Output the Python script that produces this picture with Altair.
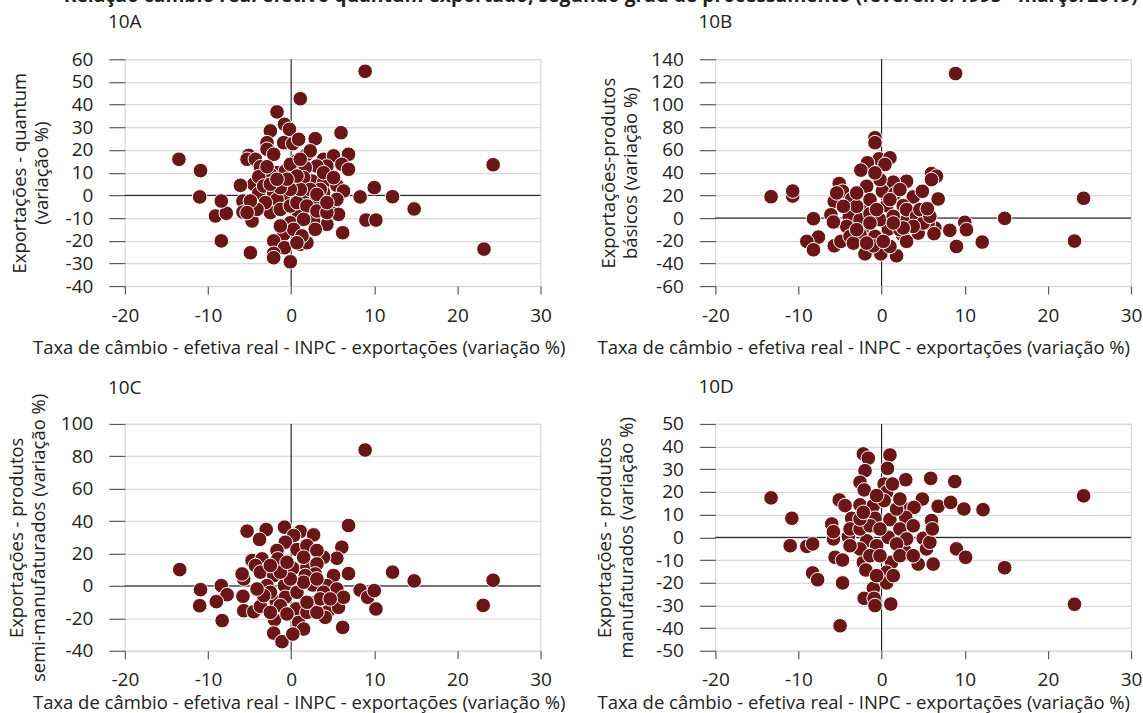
import altair as alt
import pandas as pd

# ---------------- data ----------------
X_TITLE = "Taxa de câmbio - efetiva real - INPC - exportações (variação %)"
MAIN_TITLE = ("Relação câmbio real efetivo quantum exportado, segundo grau de "
              "processamento (fevereiro/1995 - março/2019)")
X_TICKS = [-20, -10, 0, 10, 20, 30]

a_x = [1.1,-1.7,-0.8,-0.2,-2.5,6.0,2.9,-2.9,-0.9,0.2,
       0.9,-2.9,-5.1,-5.3,-4.3,-2.1,0.6,1.9,2.3,3.9,
       5.1,6.9,6.1,6.9,4.3,3.1,-3.7,-1.7,-2.5,-0.7,
       1.7,2.5,1.5,3.9,5.5,6.3,0.3,-0.9,-4.5,-6.1,
       -3.9,-5.8,-5.8,-4.7,-2.5,-1.7,-0.9,1.7,3.0,3.9,
       5.1,5.7,4.3,2.7,0.9,-0.1,-0.9,-2.1,-0.8,-2.1,
       -2.1,-0.1,1.1,1.9,2.9,6.2,-4.9,-8.4,-9.1,-7.8,
       -8.4,-11.0,-10.9,-13.5,8.3,10.0,12.2,9.0,10.2,-3.9,
       -3.3,-2.1,-1.7,-2.5,-1.3,-0.1,0.7,1.9,3.1,4.3,
       5.5,3.5,2.3,1.1,-0.1,-1.3,-2.5,-2.9,-0.1,1.1,
       3.9,5.1,0.7,-0.5,-1.7,1.5,0.3,-1.3,1.3,0.7,
       3.1,4.3,-3.1,-4.1,-4.9,-5.3,8.9,24.3,23.2,14.8]
a_y = [42.6,36.8,31.3,29.1,28.4,27.6,25.0,23.2,23.2,22.8,
       24.7,20.3,17.6,15.9,15.9,18.1,15.1,18.1,19.6,15.9,
       17.4,18.1,13.7,11.5,12.9,12.9,12.6,10.0,9.3,10.7,
       12.2,6.3,7.8,5.6,4.4,1.9,4.1,5.6,4.9,4.4,
       0.9,-2.5,-7.4,-11.3,-4.0,-5.0,-0.3,-1.8,-2.5,1.2,
       -4.0,-8.4,-12.8,-11.3,-9.1,-12.1,-17.2,-20.1,-23.1,-25.6,
       -27.5,-29.3,-21.6,-20.9,-15.0,-16.5,-25.3,-20.1,-9.1,-7.9,
       -2.5,-0.7,10.9,15.9,-0.7,3.4,-0.6,-10.9,-10.9,8.2,
       4.1,1.2,-1.8,-7.6,-6.2,-4.7,-3.2,-4.7,-6.9,-7.6,
       -1.8,2.6,2.6,2.6,2.6,3.4,4.9,12.6,13.7,15.9,
       10.0,7.8,8.5,7.1,7.1,-10.6,-15.0,-13.5,-17.9,-20.9,
       0.4,-3.2,-3.2,-6.2,-2.5,-7.6,54.7,13.5,-23.7,-6.0]

b_x = [-0.8,-0.8,-0.3,1.0,0.4,-1.7,-2.5,6.0,6.6,6.0,
       -5.1,-1.8,3.0,1.4,-4.7,0.1,1.6,3.8,4.9,6.8,
       -5.7,-3.6,0.6,2.6,5.4,-2.0,-3.9,-5.7,-6.1,-8.2,
       3.0,-2.2,0.8,-0.8,2.5,4.4,6.4,5.6,8.2,10.0,
       10.2,9.0,12.1,-7.6,-9.0,-8.2,-5.7,-4.9,-2.0,-0.1,
       1.8,-1.0,1.0,-2.6,-4.2,-2.6,-1.4,-0.2,1.4,3.0,
       4.2,5.0,3.8,2.2,-1.4,-0.6,1.0,2.2,-0.2,-0.8,
       -3.0,-4.6,-5.4,-3.0,4.6,5.8,-3.8,-3.4,-1.8,0.2,
       3.0,2.6,1.4,-1.4,-3.0,-13.3,-10.7,-10.7,8.9,14.8,
       24.3,23.2,6.3,5.5,-5.8]
b_y = [70.8,66.4,52.2,53.1,47.2,48.7,42.2,39.2,36.9,33.9,
       30.4,28.0,32.4,31.6,23.6,23.6,21.5,18.6,23.6,16.8,
       14.7,16.8,10.9,10.9,8.8,7.4,0.9,-3.8,2.9,-0.6,
       -2.1,-8.0,-9.7,-16.2,-14.7,-13.3,-8.8,-4.4,-10.9,-3.8,
       -10.3,-25.1,-21.2,-16.8,-20.6,-28.0,-24.5,-20.6,-31.6,-31.6,
       -33.3,-24.5,-25.1,-14.7,-7.4,-1.5,3.8,-1.5,1.5,7.4,
       1.5,-4.4,-7.4,-10.3,16.2,7.4,16.2,25.1,33.9,39.8,
       10.3,10.3,22.1,22.1,7.4,1.5,-16.2,-22.1,-22.1,-20.6,
       -20.6,-8.8,-4.4,-4.4,-10.3,18.8,19.4,23.8,127.4,-0.3,
       17.4,-20.3,-13.8,8.2,-3.5]

c_x = [-13.4,6.9,-5.3,-3.0,-3.8,-0.8,1.1,2.7,0.3,-0.7,
       0.7,1.9,6.1,5.5,3.9,3.1,-1.7,-4.7,-3.5,-1.6,
       -4.3,-3.7,-5.7,-5.9,-2.1,0.2,1.9,3.1,5.1,2.9,
       1.7,6.9,-0.8,2.6,4.3,5.5,-5.8,-5.7,-4.5,-3.7,
       -1.8,-0.7,0.6,2.6,4.4,5.7,6.3,-2.0,0.9,1.5,
       -2.1,-1.1,0.2,4.1,6.2,8.3,9.2,10.0,10.2,12.2,
       -10.9,-11.0,-8.4,-7.7,-9.0,-8.3,-2.9,-2.5,0.7,1.5,
       3.9,3.1,-0.1,-1.3,-0.5,1.5,-2.5,-1.3,-0.5,1.9,
       3.1,3.5,4.7,1.9,-2.5,-3.3,-4.1,8.9,14.8,24.3,
       23.1]
c_y = [10.1,37.3,33.8,34.8,28.7,36.3,33.6,31.5,31.1,27.0,
       22.5,24.9,23.9,17.1,17.7,21.9,21.9,15.7,16.7,16.7,
       12.6,8.5,4.3,7.4,6.4,10.9,11.5,13.6,6.4,7.4,
       6.4,7.6,0.2,0.6,0.2,-1.9,-6.4,-15.3,-15.9,-12.6,
       -9.7,-7.0,-14.2,-10.5,-15.9,-13.2,-7.0,-20.8,-22.5,-26.6,
       -29.1,-34.4,-29.7,-19.4,-25.6,-2.5,-7.0,-2.9,-14.2,8.5,
       -2.3,-12.2,0.2,-5.4,-9.7,-21.4,0.2,-3.9,-3.9,2.3,
       -3.9,4.3,4.3,8.5,14.6,17.7,12.6,-12.2,-17.3,-16.3,
       -16.3,-8.0,-8.0,-10.1,-16.3,-6.0,-1.9,83.9,3.1,3.5,
       -12.0]

d_x = [-2.2,-1.6,1.0,0.7,-2.0,2.9,5.9,8.8,-2.6,-2.1,
       0.3,0.6,1.3,4.9,6.8,8.3,9.9,12.2,-13.3,-10.8,
       -5.1,-4.4,-2.6,-1.0,0.3,2.8,3.9,-3.6,-0.8,1.0,
       2.9,6.0,6.0,5.0,-6.0,-5.8,-4.0,-1.8,0.8,2.8,
       -11.0,-9.0,-8.3,-5.6,-4.7,-2.2,-1.9,1.2,0.6,4.4,
       6.2,9.0,10.1,-8.3,-7.7,-4.7,-1.0,0.6,-2.1,-0.9,
       -0.8,1.1,-5.0,-3.8,-2.6,-1.4,-0.2,2.2,3.8,3.0,
       1.8,-0.6,-2.6,-3.8,-1.4,-0.2,2.2,3.8,5.4,5.8,
       1.4,-0.6,-2.6,-2.2,1.8,2.2,-0.6,24.3,23.2,14.8,
       -5.8,6.1]
d_y = [36.8,34.9,36.3,30.4,29.4,25.4,26.0,24.6,24.3,20.9,
       23.5,19.9,23.5,16.9,13.7,15.4,12.5,12.2,17.4,8.4,
       16.5,14.0,14.3,14.0,16.2,12.5,13.2,8.4,8.4,7.8,
       8.8,3.7,7.4,-0.4,5.9,-0.7,0.3,-1.5,0.0,-5.9,
       -3.7,-4.0,-2.9,-8.8,-10.0,-11.0,-14.4,-11.0,-15.4,-11.8,
       -11.8,-5.1,-8.8,-15.7,-18.7,-20.1,-22.5,-20.1,-26.9,-26.9,
       -30.1,-29.4,-39.0,3.7,3.7,5.1,3.7,3.7,5.1,-0.7,
       -2.9,-3.7,-5.1,-3.7,-8.1,-8.1,-8.1,-8.1,-5.1,-2.2,
       -16.9,-16.9,8.1,11.0,12.5,16.9,18.4,18.3,-29.5,-13.4,
       2.5,3.7]

# ---------------- styling ----------------
FONT = "Open Sans"
TEXT = "#222222"
RED = "#6B1616"
GRID = "#d9d9d9"
TICK = "#5a5a5a"
PW, PH = 416, 227
LABEL_SIZE = 19
TITLE_SIZE = 18.5


def panel(xs, ys, label, ytitle, ydom, ystep, title_x, x_title_pad,
          y_title_pad, label_dy=0):
    n = min(len(xs), len(ys))
    df = pd.DataFrame({"x": xs[:n], "y": ys[:n]})
    zero = pd.DataFrame({"v": [0]})
    xscale = alt.Scale(domain=[-20, 30], nice=False, zero=False)
    yscale = alt.Scale(domain=ydom, nice=False, zero=False)
    yvals = list(range(ydom[0], ydom[1] + 1, ystep))
    xaxis = alt.Axis(values=X_TICKS, grid=False, domain=False, tickSize=8,
                     tickColor=TICK, tickWidth=1.2, labelPadding=12,
                     labelFontSize=LABEL_SIZE, labelColor=TEXT, labelFont=FONT,
                     labelExpr="'' + datum.value",
                     labelFlush=False, title=X_TITLE, titleFont=FONT,
                     titleFontSize=TITLE_SIZE, titleFontWeight="normal",
                     titleColor=TEXT, titleX=title_x,
                     titlePadding=x_title_pad)
    yaxis = alt.Axis(values=yvals, grid=True, gridColor=GRID, gridWidth=1.2,
                     domain=False, tickSize=16, tickColor=TICK, tickWidth=1.2,
                     labelPadding=16, labelFontSize=LABEL_SIZE,
                     labelColor=TEXT, labelFont=FONT,
                     labelExpr="'' + datum.value",
                     title=ytitle, titleFont=FONT,
                     titleFontSize=TITLE_SIZE, titleFontWeight="normal",
                     titleColor=TEXT, titleLineHeight=22,
                     titlePadding=y_title_pad)
    vline = alt.Chart(zero).mark_rule(color="black", strokeWidth=1).encode(
        x=alt.X("v:Q", scale=xscale, axis=xaxis))
    hline = alt.Chart(zero).mark_rule(color="black", strokeWidth=1).encode(
        y=alt.Y("v:Q", scale=yscale, axis=yaxis))
    pts = alt.Chart(df).mark_circle(size=215, color=RED, opacity=1,
                                    stroke="white", strokeWidth=1).encode(
        x=alt.X("x:Q", scale=xscale, axis=xaxis),
        y=alt.Y("y:Q", scale=yscale, axis=yaxis))
    return alt.layer(vline, hline, pts).properties(
        width=PW, height=PH,
        title=alt.TitleParams(label, anchor="start", frame="group", dx=-17,
                              dy=label_dy, fontSize=19, font=FONT,
                              fontWeight="normal", color=TEXT, offset=18))


pa = panel(a_x, a_y, "10A", ["Exportações - quantum", "(variação %)"],
           [-40, 60], 10, 174, 13, 14)
pb = panel(b_x, b_y, "10B", ["Exportações-produtos", "básicos (variação %)"],
           [-60, 140], 20, 148, 13, 10)
pc = panel(c_x, c_y, "10C",
           ["Exportações - produtos", "semi-manufaturados (variação %)"],
           [-40, 100], 20, 174, 4, 12, label_dy=23)
pd_ = panel(d_x, d_y, "10D",
            ["Exportações - produtos", "manufaturados (variação %)"],
            [-50, 50], 10, 148, 4, 19)

# with flush bounds the rows are placed from their plot tops:
# 365 = plot height (227) + gap between the two plot areas (138)
chart = alt.vconcat(
    alt.hconcat(pa, pb, spacing=175, bounds="flush"),
    alt.hconcat(pc, pd_, spacing=175, bounds="flush"),
    spacing=365,
    bounds="flush",
).properties(
    title=alt.TitleParams(MAIN_TITLE, anchor="start", dx=57, fontSize=19.3,
                          font=FONT, fontWeight="bold", color="#222222",
                          offset=6),
    padding={"top": -13, "left": 6, "right": 0, "bottom": 0},
).configure_view(stroke=GRID, strokeWidth=1.2)

chart.save("out.html", embed_options={"renderer": "svg", "actions": False})
